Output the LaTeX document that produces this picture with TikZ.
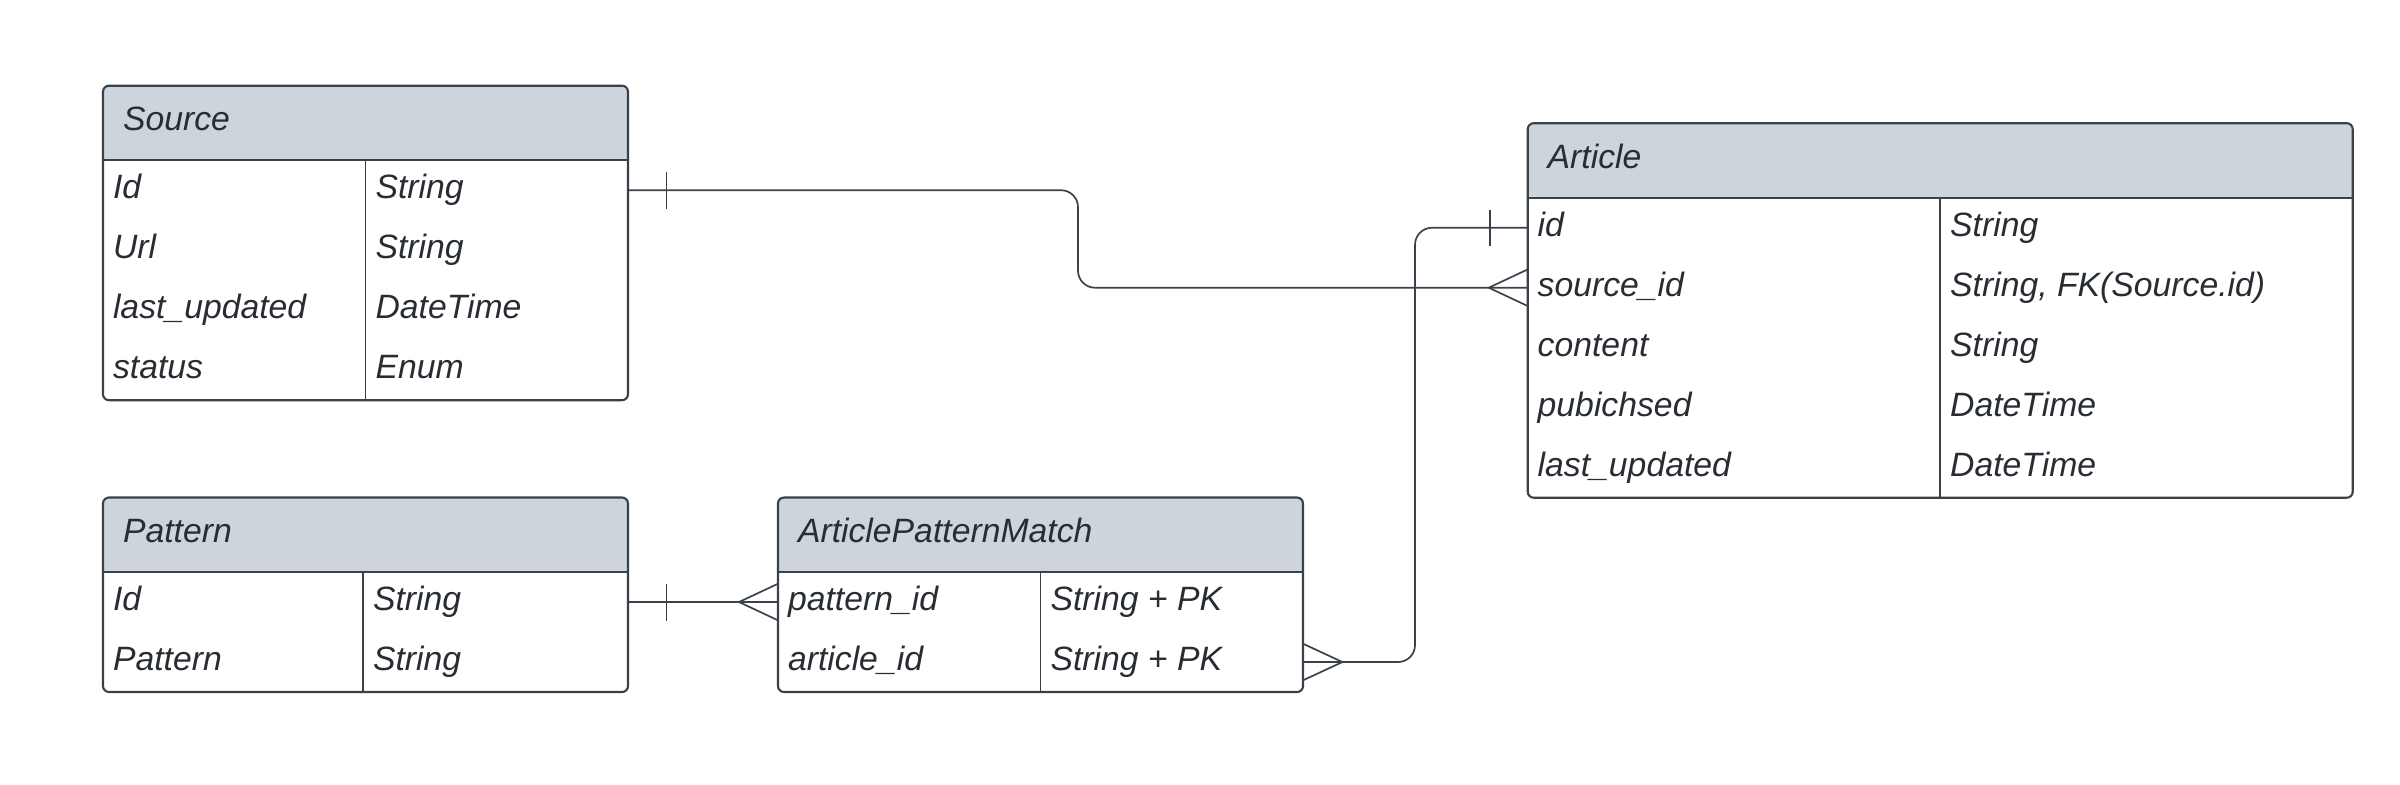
\documentclass[tikz,border=0pt]{standalone}
\usepackage{fontspec}
\setmainfont{Liberation Sans}
\usetikzlibrary{positioning, calc}
\definecolor{headgray}{HTML}{CED4DB}
\definecolor{linegray}{HTML}{3A414A}
\definecolor{textgray}{HTML}{282C33}
\newcommand\erfont{\fontsize{9.6}{11.5}\selectfont\itshape}
\tikzset{
  % ER tables
  tablehead/.style  = { anchor=north west, fill=headgray, rounded corners=0.06cm,
                        minimum height=0.745cm, inner xsep=0.2cm, outer sep=0,
                        align=left, font=\erfont, text=textgray,
                        text height=0.75em, text depth=0.30em },
  fieldtext/.style  = { anchor=west, inner sep=0, outer sep=0, font=\erfont,
                        text=textgray, text height=0.75em, text depth=0.27em },
  tableframe/.style = { draw=linegray, line width=0.6pt, rounded corners=0.06cm },
  tablerule/.style  = { draw=linegray, line width=0.45pt },
  % relations
  erline/.style     = { draw=linegray, line width=0.48pt, rounded corners=0.17cm }
}

\begin{document}
\begin{tikzpicture}

  \useasboundingbox (0,0) rectangle (24,-7.84);

  % Source
  \node[tablehead, text width=4.85cm] (src) at (1.03,-0.857) {Source};
  \fill[headgray] ([yshift=0.1cm]src.south west) rectangle (src.south east);
  \foreach \key/\type [count=\i] in {Id/String, Url/String, last\_updated/DateTime, status/Enum}{
    \node[fieldtext] (src-\i) at ([xshift=0.1cm, yshift={-0.3cm-(\i-1)*0.6cm}]src.south west) {\key};
    \node[fieldtext] (srcT-\i) at ([xshift=2.625cm]src-\i.west) {\type};
  }
  \draw[tableframe] (src.north west) rectangle ([yshift=-2.4cm]src.south east);
  \draw[tablerule] (src.south west) -- (src.south east);
  \draw[tablerule] (src.south) -- ++(0,-2.4);

  % Pattern
  \node[tablehead, text width=4.85cm] (pat) at (1.03,-4.975) {Pattern};
  \fill[headgray] ([yshift=0.1cm]pat.south west) rectangle (pat.south east);
  \foreach \key/\type [count=\i] in {Id/String, Pattern/String}{
    \node[fieldtext] (pat-\i) at ([xshift=0.1cm, yshift={-0.3cm-(\i-1)*0.6cm}]pat.south west) {\key};
    \node[fieldtext] (patT-\i) at ([xshift=2.6cm]pat-\i.west) {\type};
  }
  \draw[tableframe] (pat.north west) rectangle ([yshift=-1.2cm]pat.south east);
  \draw[tablerule] (pat.south west) -- (pat.south east);
  \draw[tablerule] ([xshift=2.6cm]pat.south west) -- ++(0,-1.2);

  % ArticlePatternMatch
  \node[tablehead, text width=4.85cm] (apm) at (7.78,-4.975) {ArticlePatternMatch};
  \fill[headgray] ([yshift=0.1cm]apm.south west) rectangle (apm.south east);
  \foreach \key/\type [count=\i] in {pattern\_id/String + PK, article\_id/String + PK}{
    \node[fieldtext] (apm-\i) at ([xshift=0.1cm, yshift={-0.3cm-(\i-1)*0.6cm}]apm.south west) {\key};
    \node[fieldtext] (apmT-\i) at ([xshift=2.625cm]apm-\i.west) {\type};
  }
  \draw[tableframe] (apm.north west) rectangle ([yshift=-1.2cm]apm.south east);
  \draw[tablerule] (apm.south west) -- (apm.south east);
  \draw[tablerule] (apm.south) -- ++(0,-1.2);

  % Article
  \node[tablehead, text width=7.85cm] (art) at (15.277,-1.232) {Article};
  \fill[headgray] ([yshift=0.1cm]art.south west) rectangle (art.south east);
  \foreach \key/\type [count=\i] in {id/String, source\_id/{String, FK(Source.id)}, content/String, pubichsed/DateTime, last\_updated/DateTime}{
    \node[fieldtext] (art-\i) at ([xshift=0.1cm, yshift={-0.3cm-(\i-1)*0.6cm}]art.south west) {\key};
    \node[fieldtext] (artT-\i) at ([xshift=4.125cm]art-\i.west) {\type};
  }
  \draw[tableframe] (art.north west) rectangle ([yshift=-3cm]art.south east);
  \draw[tablerule] (art.south west) -- (art.south east);
  \draw[tablerule] (art.south) -- ++(0,-3);

  % relation ends
  \coordinate (srcOut) at (src-1 -| src.east);
  \coordinate (artSrcIn) at (art-2 -| art.west);
  \coordinate (artIdOut) at (art-1 -| art.west);
  \coordinate (apmArtIn) at (apm-2 -| apm.east);
  \coordinate (patOut) at (pat-1 -| pat.east);
  \coordinate (apmPatIn) at (apm-1 -| apm.west);

  % Source 1 -- n Article
  \draw[erline] (srcOut) -- ++(4.5,0) |- (artSrcIn);
  \draw[erline] ([xshift=0.385cm]srcOut) ++(0,0.185) -- ++(0,-0.37);
  \draw[erline] ([xshift=-0.39cm]artSrcIn) -- ++(0.39,0.183)
                ([xshift=-0.39cm]artSrcIn) -- ++(0.39,-0.183);

  % Article 1 -- n ArticlePatternMatch
  \draw[erline] (artIdOut) -- ++(-1.127,0) |- (apmArtIn);
  \draw[erline] ([xshift=-0.377cm]artIdOut) ++(0,0.18) -- ++(0,-0.36);
  \draw[erline] ([xshift=0.394cm]apmArtIn) -- ++(-0.394,0.183)
                ([xshift=0.394cm]apmArtIn) -- ++(-0.394,-0.183);

  % Pattern 1 -- n ArticlePatternMatch
  \draw[erline] (patOut) -- (apmPatIn);
  \draw[erline] ([xshift=0.385cm]patOut) ++(0,0.185) -- ++(0,-0.37);
  \draw[erline] ([xshift=-0.39cm]apmPatIn) -- ++(0.39,0.183)
                ([xshift=-0.39cm]apmPatIn) -- ++(0.39,-0.183);

\end{tikzpicture}
\end{document}
